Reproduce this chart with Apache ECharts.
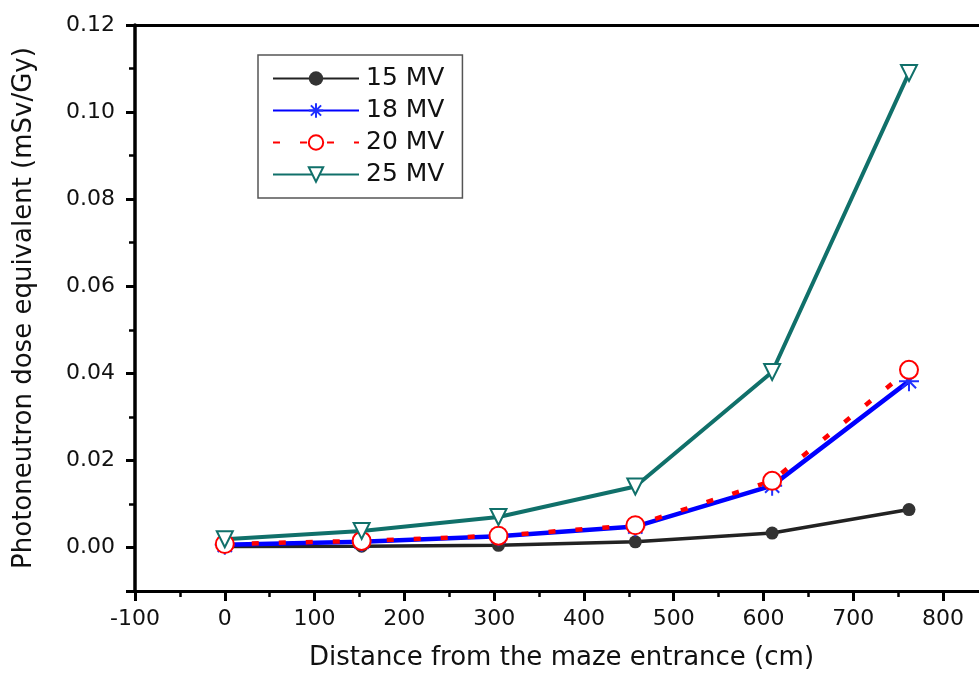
<!DOCTYPE html>
<html>
<head>
<meta charset="utf-8">
<script src="https://cdn.jsdelivr.net/npm/echarts@6/dist/echarts.min.js"></script>
<style>
html,body{margin:0;padding:0;background:#fff;}
#chart{width:979px;height:673px;}
</style>
</head>
<body>
<div id="chart"></div>
<script>
// distances (cm)
const distances = [0, 152.4, 304.8, 457.2, 609.6, 762];
// photoneutron dose equivalent (mSv/Gy)
const mv15 = [0.0002, 0.0003, 0.0005, 0.0013, 0.0033, 0.0087];
const mv18 = [0.0006, 0.0013, 0.0026, 0.0048, 0.0142, 0.0382];
const mv20 = [0.0008, 0.0015, 0.0027, 0.0051, 0.0153, 0.0408];
const mv25 = [0.0019, 0.0038, 0.0070, 0.0140, 0.0403, 0.1090];
const seriesNames = ['15 MV', '18 MV', '20 MV', '25 MV'];

const pair = arr => distances.map((d, i) => [d, arr[i]]);
const FONT = 'DejaVu Sans';
const asterisk = 'path://M0,-10L0,10M-10,0L10,0M-7.07,-7.07L7.07,7.07M-7.07,7.07L7.07,-7.07';

const chart = echarts.init(document.getElementById('chart'));
chart.setOption({
  animation: false,
  backgroundColor: '#fff',
  grid: {left: 135, top: 25, right: -9, bottom: 82, containLabel: false, outerBoundsMode: 'none'},
  legend: {
    orient: 'vertical',
    left: 258, top: 55,
    padding: [11, 18, 11, 14],
    borderColor: '#555', borderWidth: 1.5,
    itemWidth: 86, itemHeight: 18, itemGap: 7,
    textStyle: {fontFamily: FONT, fontSize: 25, color: '#111', padding: [0, 0, 0, 2]},
    data: seriesNames
  },
  xAxis: [{
    type: 'value', min: -100, max: 850, interval: 100,
    name: 'Distance from the maze entrance (cm)',
    nameLocation: 'middle', nameGap: 54,
    nameTextStyle: {fontFamily: FONT, fontSize: 26, color: '#111'},
    axisLine: {show: true, onZero: false, lineStyle: {color: '#000', width: 3}},
    axisTick: {show: true, length: 10, lineStyle: {color: '#000', width: 3}},
    minorTick: {show: true, splitNumber: 2, length: 6, lineStyle: {color: '#000', width: 2.5}},
    axisLabel: {fontFamily: FONT, fontSize: 22, color: '#111', margin: 17,
      formatter: v => (v > 800 ? '' : String(v))},
    splitLine: {show: false}, minorSplitLine: {show: false}
  }, {
    type: 'value', min: -100, max: 850, position: 'top',
    axisLine: {show: true, onZero: false, lineStyle: {color: '#000', width: 3}},
    axisTick: {show: false}, axisLabel: {show: false}, splitLine: {show: false}
  }],
  yAxis: [{
    type: 'value', min: -0.01, max: 0.12, splitNumber: 6,
    minInterval: 0.02, maxInterval: 0.02,
    name: 'Photoneutron dose equivalent (mSv/Gy)',
    nameLocation: 'middle', nameGap: 98,
    nameTextStyle: {fontFamily: FONT, fontSize: 26, color: '#111'},
    axisLine: {show: true, onZero: false, lineStyle: {color: '#000', width: 3.5}},
    axisTick: {show: true, length: 9, lineStyle: {color: '#000', width: 3}},
    axisLabel: {fontFamily: FONT, fontSize: 22, color: '#111', margin: 20,
      formatter: v => (v < -0.001 ? '' : v.toFixed(2))},
    splitLine: {show: false}
  }, {
    type: 'value', min: -0.01, max: 0.12, interval: 0.01, position: 'left', offset: 0,
    axisLine: {show: false, onZero: false},
    axisTick: {show: true, length: 6, lineStyle: {color: '#000', width: 2.5}},
    axisLabel: {show: false}, splitLine: {show: false}
  }],
  series: [{
    name: seriesNames[0], type: 'line', data: pair(mv15),
    symbol: 'circle', symbolSize: 13,
    lineStyle: {color: '#222', width: 3.5},
    itemStyle: {color: '#333', borderColor: '#333', borderWidth: 0}
  }, {
    name: seriesNames[1], type: 'line', data: pair(mv18),
    symbol: asterisk, symbolSize: 20,
    lineStyle: {color: '#0000ff', width: 4.5},
    itemStyle: {color: 'rgba(0,0,0,0)', borderColor: '#2030ff', borderWidth: 2}
  }, {
    name: seriesNames[2], type: 'line', data: pair(mv20),
    symbol: 'emptyCircle', symbolSize: 18,
    lineStyle: {color: '#ff0000', width: 4.5, type: [7, 20]},
    itemStyle: {color: '#ff0000', borderColor: '#ff0000', borderWidth: 3}
  }, {
    name: seriesNames[3], type: 'line', data: pair(mv25),
    symbol: 'emptyTriangle', symbolRotate: 180, symbolSize: 16,
    lineStyle: {color: '#10706a', width: 4},
    itemStyle: {color: '#10706a', borderColor: '#10706a', borderWidth: 3}
  }]
});
</script>
</body>
</html>
